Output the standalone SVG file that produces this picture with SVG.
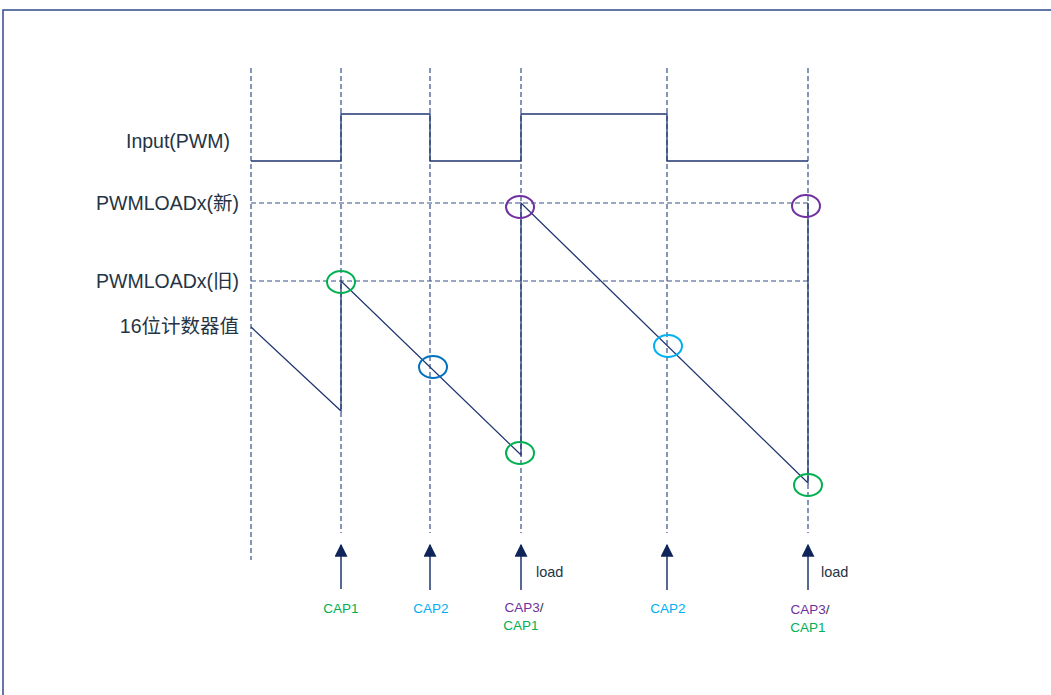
<svg xmlns="http://www.w3.org/2000/svg" width="1051" height="695" viewBox="0 0 1051 695">
<defs>
<style>
.dash{stroke:#34508c;stroke-width:1.2;stroke-dasharray:5,3;fill:none}
.sig{stroke:#1f3670;stroke-width:1.3;fill:none}
.lbl{font-family:"Liberation Sans","Noto Sans CJK SC",sans-serif;font-size:19.5px;fill:#243444;text-anchor:end}
.cap{font-family:"Liberation Sans",sans-serif;font-size:13.5px;text-anchor:middle}
.g{fill:#00b050}.c{fill:#00b0f0}.p{fill:#7030a0}
.load{font-family:"Liberation Sans",sans-serif;font-size:14.5px;fill:#243444}
.arr{stroke:#1f3670;stroke-width:1.5;fill:none}
</style>
<marker id="ah" viewBox="0 0 10 10" refX="9" refY="5" markerWidth="13" markerHeight="13" markerUnits="userSpaceOnUse" orient="auto">
<path d="M0,0 L10,5 L0,10 Z" fill="#0f2458"/>
</marker>
</defs>
<rect x="3" y="10" width="1100" height="720" fill="white" stroke="#2f4a8a" stroke-width="1.5"/>
<g id="labels">
<text class="lbl" x="230" y="148">Input(PWM)</text>
<text class="lbl" x="239" y="210">PWMLOADx(新)</text>
<text class="lbl" x="239" y="288">PWMLOADx(旧)</text>
<text class="lbl" x="239" y="333">16位计数器值</text>
</g>
<g id="grid">
<line class="dash" x1="251" y1="68" x2="251" y2="560"/>
<line class="dash" x1="341" y1="68" x2="341" y2="533"/>
<line class="dash" x1="430" y1="68" x2="430" y2="533"/>
<line class="dash" x1="521" y1="68" x2="521" y2="533"/>
<line class="dash" x1="667" y1="68" x2="667" y2="533"/>
<line class="dash" x1="808" y1="68" x2="808" y2="533"/>
<line class="dash" x1="251" y1="203" x2="808" y2="203"/>
<line class="dash" x1="251" y1="281" x2="808" y2="281"/>
</g>
<g id="pwm">
<polyline class="sig" points="251,161 341,161 341,114 430,114 430,161 521,161 521,114 667,114 667,161 808,161"/>
</g>
<g id="counter">
<polyline class="sig" points="251,327 341,411 341,281 521,455 521,203 808,483 808,203"/>
</g>
<g id="markers" fill="none" stroke-width="2">
<ellipse cx="341" cy="282" rx="14" ry="11" stroke="#00b050"/>
<ellipse cx="433" cy="367" rx="14" ry="11" stroke="#0070c0"/>
<ellipse cx="520" cy="207" rx="14" ry="11" stroke="#7030a0"/>
<ellipse cx="520" cy="453" rx="14" ry="11" stroke="#00b050"/>
<ellipse cx="668" cy="346" rx="14" ry="11" stroke="#00b0f0"/>
<ellipse cx="806" cy="206" rx="14" ry="11" stroke="#7030a0"/>
<ellipse cx="808" cy="485" rx="14" ry="11" stroke="#00b050"/>
</g>
<g id="connectors">
<line class="arr" x1="341" y1="589" x2="341" y2="545" marker-end="url(#ah)"/>
<line class="arr" x1="430" y1="590" x2="430" y2="545" marker-end="url(#ah)"/>
<line class="arr" x1="521" y1="590" x2="521" y2="545" marker-end="url(#ah)"/>
<line class="arr" x1="667" y1="590" x2="667" y2="545" marker-end="url(#ah)"/>
<line class="arr" x1="808" y1="590" x2="808" y2="545" marker-end="url(#ah)"/>
</g>
<g id="caps">
<text class="cap g" x="341" y="613">CAP1</text>
<text class="cap c" x="431" y="613">CAP2</text>
<text class="cap" x="524" y="612"><tspan class="p">CAP3</tspan><tspan fill="#243444">/</tspan></text>
<text class="cap g" x="521" y="630">CAP1</text>
<text class="cap c" x="668" y="613">CAP2</text>
<text class="cap" x="810" y="614"><tspan class="p">CAP3</tspan><tspan fill="#243444">/</tspan></text>
<text class="cap g" x="808" y="632">CAP1</text>
<text class="load" x="536" y="577">load</text>
<text class="load" x="821" y="577">load</text>
</g>
</svg>
